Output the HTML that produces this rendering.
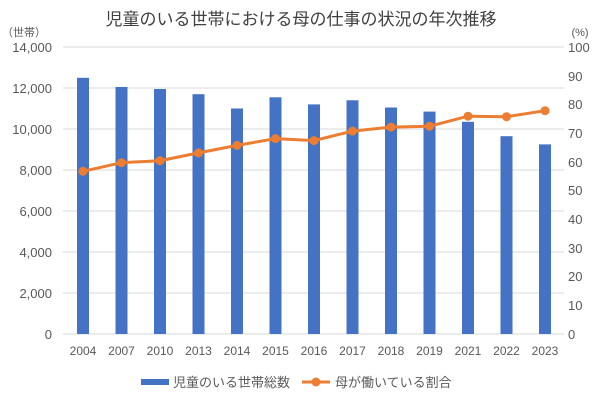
<!DOCTYPE html>
<html><head><meta charset="utf-8"><style>
body{margin:0;background:#fff}
text{font-family:"Liberation Sans","Noto Sans CJK JP",sans-serif;fill:#595959}
</style></head><body>
<svg width="603" height="401" xmlns="http://www.w3.org/2000/svg">
<rect width="603" height="401" fill="#fff"/>
<text x="301" y="25" font-size="17" text-anchor="middle" fill="#404040" style="fill:#404040">児童のいる世帯における母の仕事の状況の年次推移</text>
<text x="24" y="36" font-size="11" text-anchor="middle">（世帯）</text>
<text x="580" y="36" font-size="11" text-anchor="middle">(%)</text>
<g stroke="#d9d9d9" stroke-width="1">
<line x1="63" x2="564" y1="47" y2="47"/><line x1="63" x2="564" y1="88" y2="88"/>
<line x1="63" x2="564" y1="129" y2="129"/><line x1="63" x2="564" y1="170" y2="170"/>
<line x1="63" x2="564" y1="211" y2="211"/><line x1="63" x2="564" y1="252" y2="252"/>
<line x1="63" x2="564" y1="293" y2="293"/><line x1="63" x2="564" y1="334" y2="334"/>
</g>
<g font-size="13" text-anchor="end">
<text x="52" y="52">14,000</text><text x="52" y="93">12,000</text><text x="52" y="134">10,000</text>
<text x="52" y="175">8,000</text><text x="52" y="216">6,000</text><text x="52" y="257">4,000</text>
<text x="52" y="298">2,000</text><text x="52" y="339">0</text>
</g>
<g font-size="13" text-anchor="start">
<text x="568" y="52">100</text><text x="568" y="81">90</text><text x="568" y="109">80</text>
<text x="568" y="138">70</text><text x="568" y="167">60</text><text x="568" y="195">50</text>
<text x="568" y="224">40</text><text x="568" y="253">30</text><text x="568" y="281">20</text>
<text x="568" y="310">10</text><text x="568" y="339">0</text>
</g>
<g fill="#4472c4">
<rect x="77" y="77.8" width="12" height="256.2"/>
<rect x="115.5" y="87" width="12" height="247"/>
<rect x="154" y="89" width="12" height="245"/>
<rect x="192.5" y="94.2" width="12" height="239.8"/>
<rect x="231" y="108.5" width="12" height="225.5"/>
<rect x="269.5" y="97.3" width="12" height="236.7"/>
<rect x="308" y="104.4" width="12" height="229.6"/>
<rect x="346.5" y="100.3" width="12" height="233.7"/>
<rect x="385" y="107.5" width="12" height="226.5"/>
<rect x="423.5" y="111.6" width="12" height="222.4"/>
<rect x="462" y="121.8" width="12" height="212.2"/>
<rect x="500.5" y="136.2" width="12" height="197.8"/>
<rect x="539" y="144.4" width="12" height="189.6"/>
</g>
<polyline fill="none" stroke="#ed7d31" stroke-width="3" points="83,171.3 121.5,162.7 160,160.7 198.5,152.9 237,145.4 275.5,138.6 314,140.6 352.5,131.1 391,127.1 429.5,126.2 468,116.2 506.5,116.7 545,110.7"/>
<g fill="#ed7d31">
<circle cx="83" cy="171.3" r="4.5"/><circle cx="121.5" cy="162.7" r="4.5"/><circle cx="160" cy="160.7" r="4.5"/>
<circle cx="198.5" cy="152.9" r="4.5"/><circle cx="237" cy="145.4" r="4.5"/><circle cx="275.5" cy="138.6" r="4.5"/>
<circle cx="314" cy="140.6" r="4.5"/><circle cx="352.5" cy="131.1" r="4.5"/><circle cx="391" cy="127.1" r="4.5"/>
<circle cx="429.5" cy="126.2" r="4.5"/><circle cx="468" cy="116.2" r="4.5"/><circle cx="506.5" cy="116.7" r="4.5"/>
<circle cx="545" cy="110.7" r="4.5"/>
</g>
<g font-size="12" text-anchor="middle">
<text x="83" y="355">2004</text><text x="121.5" y="355">2007</text><text x="160" y="355">2010</text>
<text x="198.5" y="355">2013</text><text x="237" y="355">2014</text><text x="275.5" y="355">2015</text>
<text x="314" y="355">2016</text><text x="352.5" y="355">2017</text><text x="391" y="355">2018</text>
<text x="429.5" y="355">2019</text><text x="468" y="355">2021</text><text x="506.5" y="355">2022</text>
<text x="545" y="355">2023</text>
</g>
<rect x="141" y="379" width="28" height="6" fill="#4472c4"/>
<text x="173" y="387" font-size="13">児童のいる世帯総数</text>
<line x1="302" x2="330" y1="382" y2="382" stroke="#ed7d31" stroke-width="3"/>
<circle cx="316" cy="382" r="4.5" fill="#ed7d31"/>
<text x="335" y="387" font-size="13">母が働いている割合</text>
</svg>
</body></html>
